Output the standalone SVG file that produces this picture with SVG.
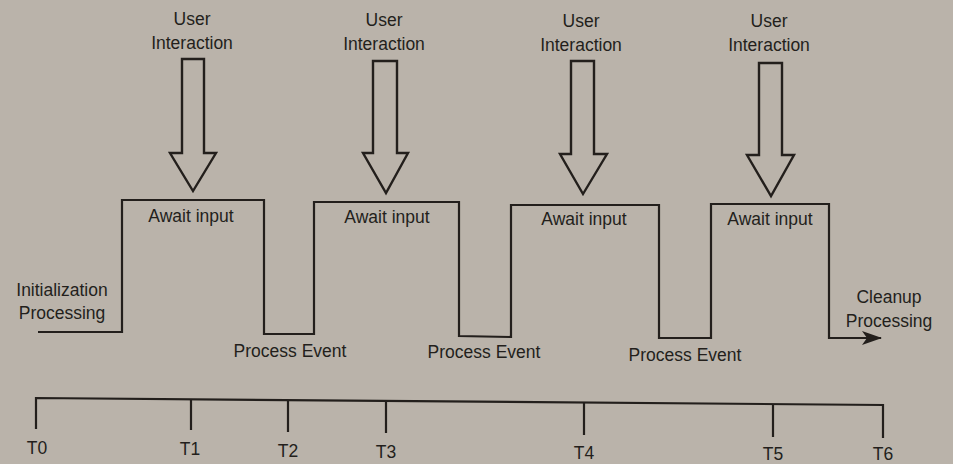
<svg xmlns="http://www.w3.org/2000/svg" width="953" height="464" viewBox="0 0 953 464">
  <style>
    .lbl { font-family: "Liberation Sans", Arial, sans-serif; font-size: 17.5px; fill: #231f1c; text-anchor: middle; }
    .ln { fill: none; stroke: #231f1c; stroke-width: 2.2; stroke-linejoin: miter; }
    .big { fill: none; stroke: #231f1c; stroke-width: 2.4; stroke-linejoin: miter; }
  </style>
  <defs>
    <marker id="head" viewBox="0 0 20 14" refX="19" refY="7" markerWidth="20" markerHeight="14" markerUnits="userSpaceOnUse" orient="auto">
      <path d="M0,0 L20,7 L0,14 L5,7 Z" fill="#231f1c"/>
    </marker>
  </defs>
  <rect width="953" height="464" fill="#bab3aa"/>

  <!-- user interaction arrows -->
  <g id="input1">
    <text class="lbl" x="192" y="25">User</text>
    <text class="lbl" x="192" y="49">Interaction</text>
    <polygon class="big" points="182,59 204,59 204,153 216,153 193,191 170,153 182,153"/>
  </g>
  <g id="input2">
    <text class="lbl" x="384" y="26">User</text>
    <text class="lbl" x="384" y="50">Interaction</text>
    <polygon class="big" points="373,61 397,61 397,153 408,153 386,193 363,153 373,153"/>
  </g>
  <g id="input3">
    <text class="lbl" x="581" y="27">User</text>
    <text class="lbl" x="581" y="51">Interaction</text>
    <polygon class="big" points="571,61 594,61 594,154 607,154 583,194 560,154 571,154"/>
  </g>
  <g id="input4">
    <text class="lbl" x="769" y="27">User</text>
    <text class="lbl" x="769" y="51">Interaction</text>
    <polygon class="big" points="759,63 782,63 782,155 794,155 771,196 747,155 759,155"/>
  </g>

  <!-- state labels -->
  <g id="init">
    <text class="lbl" x="62" y="296">Initialization</text>
    <text class="lbl" x="62" y="319">Processing</text>
  </g>
  <g id="await1"><text class="lbl" x="191" y="222">Await input</text></g>
  <g id="await2"><text class="lbl" x="387" y="223">Await input</text></g>
  <g id="await3"><text class="lbl" x="584" y="225">Await input</text></g>
  <g id="await4"><text class="lbl" x="770" y="225">Await input</text></g>
  <g id="event1"><text class="lbl" x="290" y="357">Process Event</text></g>
  <g id="event2"><text class="lbl" x="484" y="358">Process Event</text></g>
  <g id="event3"><text class="lbl" x="685" y="361">Process Event</text></g>
  <g id="cleanup">
    <text class="lbl" x="889" y="303">Cleanup</text>
    <text class="lbl" x="889" y="327">Processing</text>
  </g>

  <!-- state waveform -->
  <g id="connectors">
    <path class="ln" marker-end="url(#head)" d="M38,332 L122,332 L122,200 L264,200 L264,334 L314,334 L314,202 L459,202 L459,336 L511,337 L511,205 L659,205 L659,338 L711,338 L711,204 L829,204 L829,338 L881,338"/>
  </g>

  <!-- time axis -->
  <g id="timeline">
    <path class="ln" d="M36,429 L36,398 L883,405 L883,438"/>
    <path class="ln" d="M191,399.3 L191,430 M288,400 L288,432 M386,400.9 L386,433 M584,402.5 L584,435 M773,404.1 L773,437"/>
    <text class="lbl" x="37" y="454">T0</text>
    <text class="lbl" x="190" y="455">T1</text>
    <text class="lbl" x="288" y="457">T2</text>
    <text class="lbl" x="386" y="457.5">T3</text>
    <text class="lbl" x="584" y="459">T4</text>
    <text class="lbl" x="773" y="459.5">T5</text>
    <text class="lbl" x="883" y="460">T6</text>
  </g>
</svg>
